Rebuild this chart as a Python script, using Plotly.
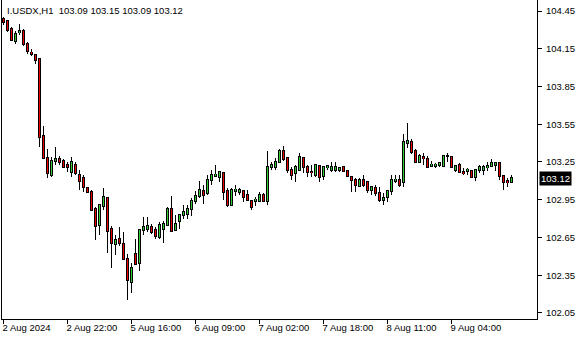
import plotly.graph_objects as go

symbol = "I.USDX,H1"

opens = [104.39, 104.37, 104.31, 104.21, 104.28, 104.29, 104.19, 104.12, 104.10, 104.07,
         103.46, 103.28, 103.15, 103.26, 103.27, 103.26, 103.23, 103.17, 103.23, 103.15,
         103.12, 103.04, 103.01, 102.88, 102.75, 102.90, 102.96, 102.72, 102.60, 102.64,
         102.60, 102.48, 102.30, 102.52, 102.45, 102.71, 102.72, 102.73, 102.71, 102.65,
         102.72, 102.75, 102.88, 102.71, 102.78, 102.83, 102.84, 102.88, 102.94, 102.98,
         103.02, 103.00, 103.11, 103.14, 103.13, 103.16, 103.02, 102.91, 103.02, 103.01,
         103.02, 102.99, 102.94, 102.94, 102.94, 102.99, 102.94, 103.21, 103.21, 103.25,
         103.34, 103.28, 103.19, 103.16, 103.19, 103.28, 103.21, 103.17, 103.15, 103.22,
         103.14, 103.21, 103.19, 103.19, 103.19, 103.21, 103.18, 103.13, 103.11, 103.06,
         103.11, 103.09, 103.03, 103.04, 103.00, 102.95, 102.97, 103.02, 103.10, 103.11,
         103.09, 103.40, 103.41, 103.34, 103.25, 103.29, 103.27, 103.22, 103.22, 103.23,
         103.22, 103.30, 103.29, 103.19, 103.23, 103.17, 103.18, 103.18, 103.13, 103.19,
         103.19, 103.21, 103.22, 103.23, 103.24, 103.14, 103.10, 103.09]
highs = [104.40, 104.38, 104.32, 104.29, 104.35, 104.31, 104.20, 104.15, 104.11, 104.08,
         103.54, 103.35, 103.29, 103.37, 103.30, 103.27, 103.25, 103.29, 103.25, 103.19,
         103.15, 103.05, 103.03, 102.89, 102.92, 103.04, 102.97, 102.74, 102.67, 102.73,
         102.69, 102.52, 102.45, 102.64, 102.72, 102.81, 102.81, 102.76, 102.73, 102.77,
         102.78, 102.89, 102.98, 102.83, 102.84, 102.91, 102.91, 102.96, 103.02, 103.10,
         103.07, 103.15, 103.19, 103.23, 103.18, 103.16, 103.04, 103.04, 103.07, 103.04,
         103.03, 103.03, 102.95, 102.97, 103.01, 103.00, 103.34, 103.25, 103.28, 103.35,
         103.38, 103.29, 103.21, 103.23, 103.32, 103.29, 103.23, 103.23, 103.23, 103.23,
         103.21, 103.23, 103.25, 103.25, 103.21, 103.22, 103.19, 103.14, 103.12, 103.12,
         103.15, 103.10, 103.05, 103.07, 103.05, 103.00, 103.03, 103.15, 103.15, 103.15,
         103.47, 103.56, 103.43, 103.35, 103.31, 103.32, 103.30, 103.26, 103.24, 103.25,
         103.30, 103.32, 103.30, 103.23, 103.24, 103.20, 103.20, 103.19, 103.19, 103.23,
         103.23, 103.25, 103.27, 103.25, 103.25, 103.15, 103.12, 103.15]
lows = [104.34, 104.28, 104.21, 104.19, 104.26, 104.17, 104.11, 104.09, 104.03, 103.37,
        103.27, 103.12, 103.13, 103.23, 103.23, 103.20, 103.17, 103.13, 103.15, 103.03,
        103.01, 103.00, 102.86, 102.63, 102.67, 102.87, 102.53, 102.41, 102.51, 102.58,
        102.47, 102.15, 102.21, 102.43, 102.38, 102.67, 102.69, 102.68, 102.64, 102.64,
        102.61, 102.74, 102.70, 102.70, 102.72, 102.80, 102.80, 102.82, 102.92, 102.96,
        102.92, 102.99, 103.07, 103.13, 103.09, 102.95, 102.89, 102.90, 102.98, 102.99,
        102.93, 102.94, 102.87, 102.90, 102.93, 102.93, 102.91, 103.19, 103.19, 103.24,
        103.26, 103.16, 103.11, 103.09, 103.18, 103.16, 103.13, 103.13, 103.13, 103.09,
        103.11, 103.19, 103.17, 103.17, 103.17, 103.17, 103.13, 103.01, 103.01, 103.06,
        103.05, 103.00, 102.99, 102.98, 102.93, 102.91, 102.93, 102.99, 103.08, 103.05,
        103.05, 103.36, 103.31, 103.24, 103.24, 103.23, 103.21, 103.21, 103.20, 103.21,
        103.22, 103.25, 103.20, 103.17, 103.16, 103.15, 103.15, 103.12, 103.10, 103.16,
        103.15, 103.18, 103.21, 103.18, 103.11, 103.03, 103.05, 103.09]
closes = [104.36, 104.30, 104.22, 104.27, 104.29, 104.19, 104.13, 104.11, 104.06, 103.45,
          103.28, 103.16, 103.26, 103.27, 103.25, 103.21, 103.21, 103.25, 103.16, 103.10,
          103.05, 103.01, 102.87, 102.74, 102.91, 102.97, 102.70, 102.61, 102.63, 102.61,
          102.48, 102.31, 102.41, 102.44, 102.71, 102.73, 102.74, 102.69, 102.66, 102.75,
          102.76, 102.88, 102.70, 102.76, 102.83, 102.85, 102.88, 102.94, 102.98, 103.03,
          102.99, 103.11, 103.15, 103.15, 103.17, 103.01, 102.91, 103.03, 103.03, 103.03,
          102.97, 102.95, 102.89, 102.95, 102.99, 102.94, 103.21, 103.23, 103.25, 103.34,
          103.27, 103.19, 103.15, 103.21, 103.29, 103.21, 103.17, 103.168, 103.23, 103.13,
          103.21, 103.22, 103.21, 103.21, 103.20, 103.18, 103.14, 103.11, 103.07, 103.11,
          103.07, 103.03, 103.05, 103.00, 102.95, 102.96, 103.02, 103.11, 103.11, 103.07,
          103.41, 103.42, 103.33, 103.25, 103.30, 103.28, 103.21, 103.23, 103.23, 103.24,
          103.30, 103.30, 103.21, 103.22, 103.17, 103.16, 103.19, 103.13, 103.19, 103.21,
          103.21, 103.22, 103.24, 103.24, 103.14, 103.09, 103.09, 103.12]

tick_index = [0, 16, 32, 48, 64, 80, 96, 112]
tick_labels = ["2 Aug 2024", "2 Aug 22:00", "5 Aug 16:00", "6 Aug 09:00",
               "7 Aug 02:00", "7 Aug 18:00", "8 Aug 11:00", "9 Aug 04:00"]
price_ticks = [104.45, 104.15, 103.85, 103.55, 103.25, 102.95, 102.65, 102.35, 102.05]

FONT = "Liberation Sans"
FS = 9.5
BULL = "#32CD32"
BEAR = "#F00000"

W, H = 580, 340
M = dict(l=2, r=43, t=0, b=21)
Y_RANGE = [102.0022, 104.5374]
PX = (Y_RANGE[1] - Y_RANGE[0]) / (H - M["t"] - M["b"])   # price per pixel

n = len(opens)
x = list(range(n))
body_lo = [min(o, c) for o, c in zip(opens, closes)]
body_hi = [max(o, c) for o, c in zip(opens, closes)]
colors = [BULL if c >= o else BEAR for o, c in zip(opens, closes)]

wick_h = [h - l for h, l in zip(highs, lows)]
out_base = [lo - PX for lo in body_lo]
out_h = [(hi + PX) - (lo - PX) for hi, lo in zip(body_hi, body_lo)]
fill_h = [hi - lo for hi, lo in zip(body_hi, body_lo)]

fig = go.Figure()
# wick (high-low), drawn first
fig.add_trace(go.Bar(
    x=x, y=wick_h, base=lows, width=0.225, offset=-0.1125,
    marker=dict(color="black", line=dict(width=0)), hoverinfo="skip",
))
# black outline of the body
fig.add_trace(go.Bar(
    x=x, y=out_h, base=out_base, width=0.74, offset=-0.37,
    marker=dict(color="black", line=dict(width=0)), hoverinfo="skip",
))
# coloured body fill
fig.add_trace(go.Bar(
    x=x, y=fill_h, base=body_lo, width=0.225, offset=-0.1125,
    marker=dict(color=colors, line=dict(width=0)), hoverinfo="skip",
))

last = n - 1
header = "%s  %.2f %.2f %.2f %.2f" % (symbol, opens[last], highs[last], lows[last], closes[last])

fig.update_layout(
    width=W, height=H,
    margin=M,
    paper_bgcolor="white", plot_bgcolor="white",
    showlegend=False,
    bargap=0, bargroupgap=0, barmode="overlay",
    font=dict(family=FONT, size=FS, color="black"),
    xaxis=dict(
        range=[-0.375, 133.375],
        showgrid=False, zeroline=False,
        showline=True, linecolor="black", linewidth=1, mirror=False,
        tickmode="array", tickvals=tick_index, ticktext=tick_labels,
        ticks="outside", ticklen=4, tickcolor="black",
        ticklabelposition="outside right", ticklabelshift=-2,
        tickfont=dict(family=FONT, size=FS, color="black"),
    ),
    yaxis=dict(
        range=Y_RANGE, side="right",
        showgrid=False, zeroline=False,
        showline=True, linecolor="black", linewidth=1, mirror=True,
        tickmode="array", tickvals=price_ticks,
        ticktext=["%.2f" % v for v in price_ticks],
        ticks="outside", ticklen=4, tickcolor="black", ticklabelstandoff=2,
        tickfont=dict(family=FONT, size=FS, color="black"),
    ),
    annotations=[
        dict(text=header, xref="paper", yref="paper", x=0, y=1,
             xanchor="left", yanchor="top", xshift=3, yshift=-3, showarrow=False,
             font=dict(family=FONT, size=FS, color="black")),
        dict(text="%.2f" % closes[last], xref="paper", yref="y", x=1, y=closes[last],
             xanchor="left", yanchor="middle", xshift=2, showarrow=False,
             bgcolor="black", borderpad=1,
             font=dict(family=FONT, size=FS, color="white")),
    ],
)

fig.write_html("out.html")
